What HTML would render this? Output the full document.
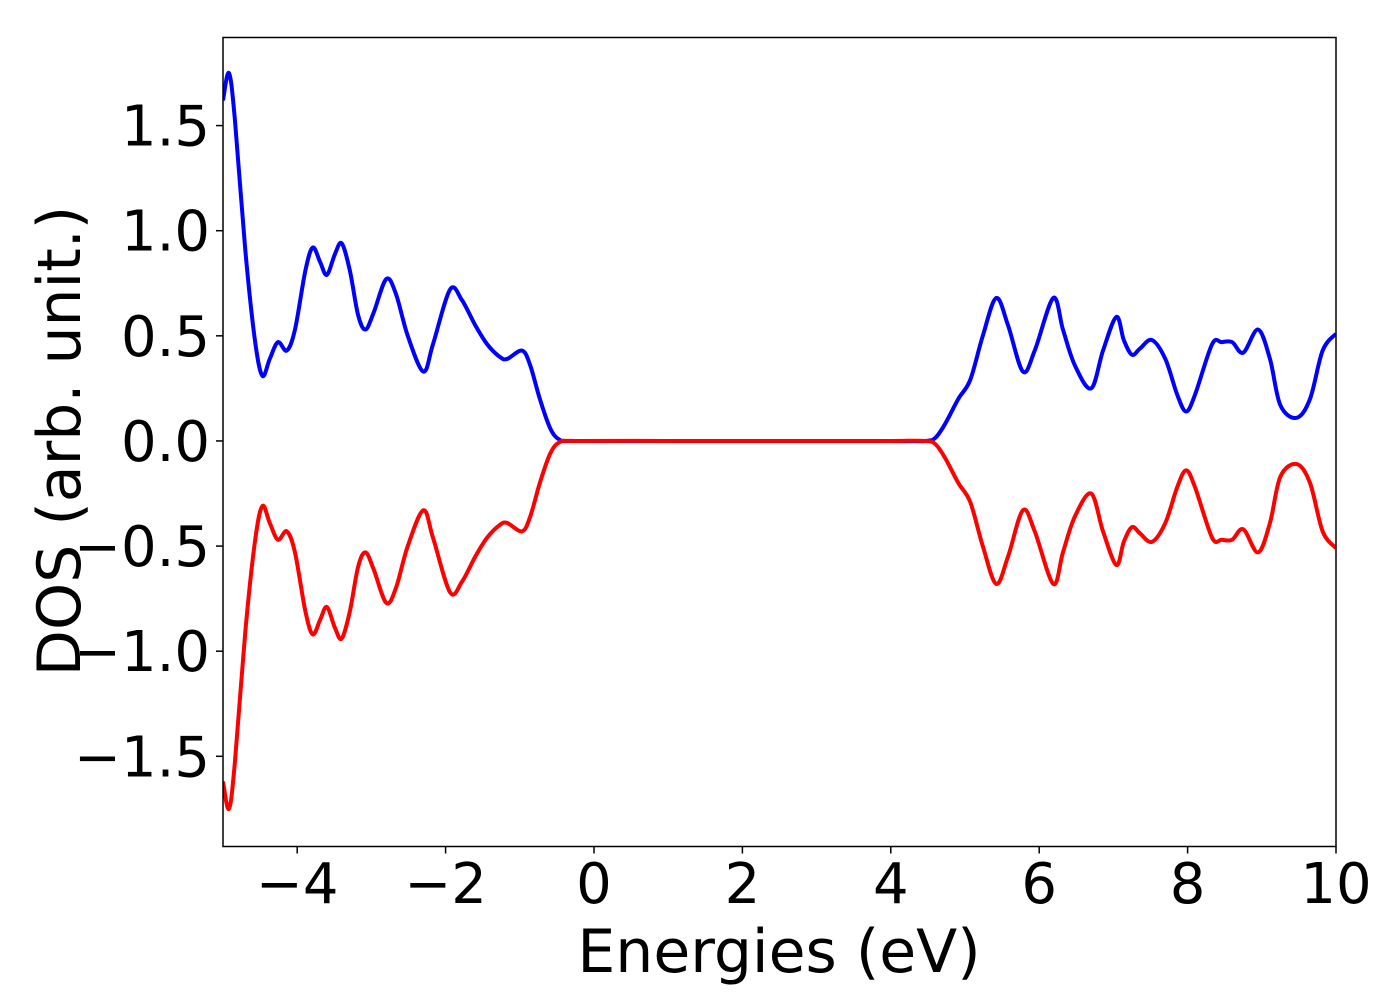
<!DOCTYPE html>
<html><head><meta charset="utf-8"><style>
html,body{margin:0;padding:0;background:#fff;}
svg text{font-family:"DejaVu Sans","Liberation Sans",sans-serif;fill:#000;}
</style></head><body>
<svg id="chart" width="1400" height="1000" xmlns="http://www.w3.org/2000/svg">
<g id="ticks"></g>
<g id="series"></g>
<rect x="223" y="37.5" width="1113" height="809" fill="none" stroke="#000" stroke-width="1.5"/>
<text x="779" y="972" font-size="60" text-anchor="middle">Energies (eV)</text>
<text transform="translate(80,441) rotate(-90)" font-size="60" text-anchor="middle">DOS (arb. unit.)</text>
</svg>
<script>
const energies = [-5,-4.92,-4.84,-4.70,-4.57,-4.47,-4.37,-4.26,-4.14,-4.03,-3.89,-3.79,-3.69,-3.60,-3.49,-3.40,-3.29,-3.18,-3.08,-2.97,-2.80,-2.67,-2.51,-2.30,-2.17,-1.94,-1.78,-1.60,-1.44,-1.27,-1.17,-0.97,-0.86,-0.73,-0.59,-0.46,-0.26,1,2,3,4,4.46,4.60,4.73,4.91,5.07,5.24,5.42,5.58,5.78,5.94,6.19,6.32,6.48,6.70,6.86,7.04,7.14,7.25,7.36,7.52,7.70,7.86,7.98,8.10,8.33,8.46,8.60,8.75,8.95,9.11,9.25,9.47,9.65,9.82,10];
const dosUp = [1.62,1.75,1.53,0.91,0.48,0.31,0.39,0.47,0.43,0.53,0.81,0.92,0.85,0.79,0.89,0.94,0.81,0.60,0.53,0.61,0.77,0.70,0.50,0.33,0.46,0.72,0.67,0.55,0.46,0.40,0.39,0.43,0.36,0.20,0.06,0.005,0,0,0,0,0,0,0.015,0.08,0.20,0.29,0.50,0.68,0.55,0.33,0.43,0.68,0.53,0.36,0.25,0.43,0.59,0.48,0.41,0.44,0.48,0.39,0.22,0.14,0.22,0.46,0.47,0.47,0.42,0.53,0.39,0.17,0.11,0.20,0.43,0.51];
const dosDown = [-1.62,-1.75,-1.53,-0.91,-0.48,-0.31,-0.39,-0.47,-0.43,-0.53,-0.81,-0.92,-0.85,-0.79,-0.89,-0.94,-0.81,-0.60,-0.53,-0.61,-0.77,-0.70,-0.50,-0.33,-0.46,-0.72,-0.67,-0.55,-0.46,-0.40,-0.39,-0.43,-0.36,-0.20,-0.06,-0.005,0,0,0,0,0,0,-0.015,-0.08,-0.20,-0.29,-0.50,-0.68,-0.55,-0.33,-0.43,-0.68,-0.53,-0.36,-0.25,-0.43,-0.59,-0.48,-0.41,-0.44,-0.48,-0.39,-0.22,-0.14,-0.22,-0.46,-0.47,-0.47,-0.42,-0.53,-0.39,-0.17,-0.11,-0.20,-0.43,-0.51];
const xTicks = [-4,-2,0,2,4,6,8,10];
const yTicks = [-1.5,-1.0,-0.5,0.0,0.5,1.0,1.5];
const xTickLabels = ["\u22124","\u22122","0","2","4","6","8","10"];
const yTickLabels = ["\u22121.5","\u22121.0","\u22120.5","0.0","0.5","1.0","1.5"];

const X0=223,X1=1336,Y0=846.5,Y1=37.5,xmin=-5,xmax=10,ymin=-1.929,ymax=1.919;
function sx(v){return X0+(v-xmin)/(xmax-xmin)*(X1-X0);}
function sy(v){return Y0-(v-ymin)/(ymax-ymin)*(Y0-Y1);}
const NS="http://www.w3.org/2000/svg";
const tg=document.getElementById('ticks');
xTicks.forEach((t,i)=>{
  const l=document.createElementNS(NS,'line');
  
  
  l.setAttribute('x1',sx(t));l.setAttribute('x2',sx(t));l.setAttribute('y1',846.5);l.setAttribute('y2',853.5);
  l.setAttribute('stroke','#000');l.setAttribute('stroke-width','1.5');tg.appendChild(l);
  const tx=document.createElementNS(NS,'text');
  
  
  tx.setAttribute('x',sx(t));tx.setAttribute('y',903);tx.setAttribute('font-size','56');tx.setAttribute('text-anchor','middle');
  tx.textContent=xTickLabels[i];tg.appendChild(tx);
});
yTicks.forEach((t,i)=>{
  const l=document.createElementNS(NS,'line');
  
  
  l.setAttribute('x1',216);l.setAttribute('x2',223);l.setAttribute('y1',sy(t));l.setAttribute('y2',sy(t));
  l.setAttribute('stroke','#000');l.setAttribute('stroke-width','1.5');tg.appendChild(l);
  const tx=document.createElementNS(NS,'text');
  
  
  tx.setAttribute('x',210);tx.setAttribute('y',sy(t)+20);tx.setAttribute('font-size','56');tx.setAttribute('text-anchor','end');
  tx.textContent=yTickLabels[i];tg.appendChild(tx);
});
function smoothPath(xs,ys){
  const p=xs.map((x,i)=>[sx(x),sy(ys[i])]);
  let d='M'+p[0][0]+','+p[0][1];
  for(let i=0;i<p.length-1;i++){
    const p0=p[i-1]||p[i],p1=p[i],p2=p[i+1],p3=p[i+2]||p2;
    const c1=[p1[0]+(p2[0]-p0[0])/6,p1[1]+(p2[1]-p0[1])/6];
    const c2=[p2[0]-(p3[0]-p1[0])/6,p2[1]-(p3[1]-p1[1])/6];
    d+=' C'+c1[0]+','+c1[1]+' '+c2[0]+','+c2[1]+' '+p2[0]+','+p2[1];
  }
  return d;
}
const sg=document.getElementById('series');
const clip=document.createElementNS(NS,'clipPath');clip.setAttribute('id','cp');
const cr=document.createElementNS(NS,'rect');cr.setAttribute('x',X0);cr.setAttribute('y',Y1);cr.setAttribute('width',X1-X0);cr.setAttribute('height',Y0-Y1);
clip.appendChild(cr);document.getElementById('chart').appendChild(clip);
sg.setAttribute('clip-path','url(#cp)');
const up=document.createElementNS(NS,'path');


up.setAttribute('d',smoothPath(energies,dosUp));up.setAttribute('fill','none');up.setAttribute('stroke','#0000ff');up.setAttribute('stroke-width','4');
sg.appendChild(up);
const dn=document.createElementNS(NS,'path');


dn.setAttribute('d',smoothPath(energies,dosDown));dn.setAttribute('fill','none');dn.setAttribute('stroke','#ff0000');dn.setAttribute('stroke-width','4');
sg.appendChild(dn);
</script>
</body></html>
